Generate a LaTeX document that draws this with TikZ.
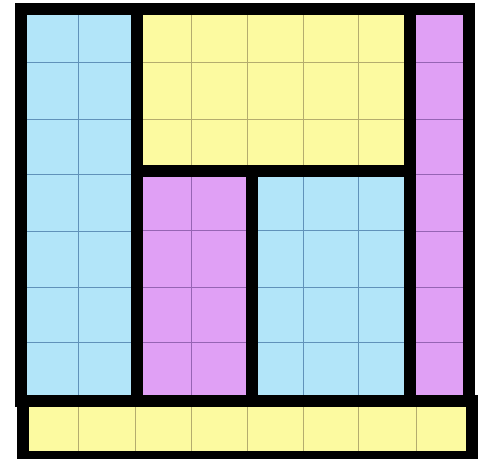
\documentclass[tikz,border=0pt]{standalone}
\usepackage{tikz}
\usepackage{xcolor}
\definecolor{tileblue}{RGB}{178,229,249}
\definecolor{tileyellow}{RGB}{252,250,160}
\definecolor{tilemagenta}{RGB}{224,160,245}
\definecolor{lineblue}{RGB}{96,146,186}
\definecolor{lineyellow}{RGB}{180,172,110}
\definecolor{linemagenta}{RGB}{150,100,180}
\tikzset{
  wall/.style={draw=black,line width=0.6cm},
  gridb/.style={draw=lineblue,line width=0.7pt},
  gridy/.style={draw=lineyellow,line width=0.7pt},
  gridm/.style={draw=linemagenta,line width=0.7pt}
}

\begin{document}
\begin{tikzpicture}[x=0.05cm,y=-0.05cm]
  \useasboundingbox[fill=white] (0,0) rectangle (481,458);
  % coloured pieces
  \fill[tileblue] (21,9) rectangle (137,400.5);
  \fill[tileyellow] (137,9) rectangle (409.5,170.5);
  \fill[tilemagenta] (137,170.5) rectangle (252,400.5);
  \fill[tileblue] (252,170.5) rectangle (409.5,400.5);
  \fill[tilemagenta] (409.5,9) rectangle (468.5,400.5);
  \fill[tileyellow] (22.5,400.5) rectangle (471.5,456.5);
  % unit squares
  \draw[gridb] (78,9) -- (78,400.5);
  \foreach \y in {62,119,174,231,287,342}
    \draw[gridb] (21,\y) -- (137,\y);
  \foreach \x in {191,247,303,358}
    \draw[gridy] (\x,9) -- (\x,170.5);
  \foreach \y in {62,119}
    \draw[gridy] (137,\y) -- (409.5,\y);
  \draw[gridm] (191,170.5) -- (191,400.5);
  \foreach \y in {230,287,342}
    \draw[gridm] (137,\y) -- (252,\y);
  \foreach \x in {303,358}
    \draw[gridb] (\x,170.5) -- (\x,400.5);
  \foreach \y in {230,287,342}
    \draw[gridb] (252,\y) -- (409.5,\y);
  \foreach \y in {62,119,174,231,287,342}
    \draw[gridm] (409.5,\y) -- (468.5,\y);
  \foreach \x in {78,135,191,247,303,358,416}
    \draw[gridy] (\x,400.5) -- (\x,456.5);
  % thick outlines
  \draw[wall] (21,9) rectangle (468.5,400.5);
  \draw[wall] (22.5,400.5) rectangle (471.5,456.5);
  \draw[wall] (137,9) -- (137,400.5);
  \draw[wall] (409.5,9) -- (409.5,400.5);
  \draw[wall] (137,170.5) -- (409.5,170.5);
  \draw[wall] (252,170.5) -- (252,400.5);
\end{tikzpicture}
\end{document}
